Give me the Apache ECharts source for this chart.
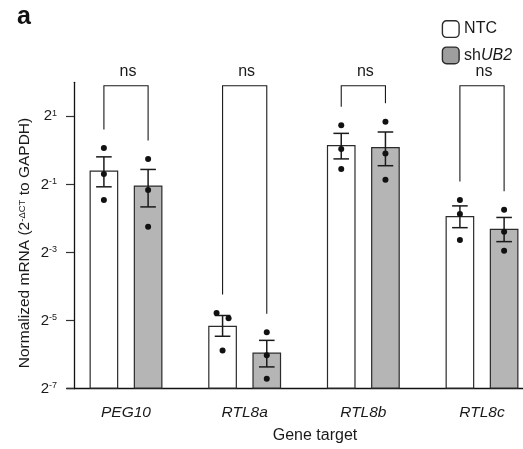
<!DOCTYPE html>
<html>
<head>
<meta charset="utf-8">
<script src="https://cdn.jsdelivr.net/npm/echarts@6.0.0/dist/echarts.min.js"></script>
<style>
html,body{margin:0;padding:0;background:#fff;}
#chart{width:523px;height:449px;}
</style>
</head>
<body>
<div id="chart"></div>
<script>
// ---- data (values are log2 of normalized mRNA, i.e. exponents of 2) ----
const categories = ['PEG10', 'RTL8a', 'RTL8b', 'RTL8c'];
const seriesNames = ['NTC', 'shUB2'];
const ntcMean = [-0.59, -5.15, 0.16, -1.93];
const ntcErrLow = [-1.07, -5.46, -0.25, -2.27];
const ntcErrHigh = [-0.19, -4.85, 0.50, -1.63];
const shMean = [-1.03, -5.94, 0.10, -2.30];
const shErrLow = [-1.66, -6.36, -0.45, -2.68];
const shErrHigh = [-0.56, -5.58, 0.54, -1.97];
const ntcPoints = [[0.07, -0.69, -1.46], [-4.78, -4.93, -5.88], [0.74, 0.04, -0.55], [-1.46, -1.87, -2.63]];
const shPoints = [[-0.25, -1.16, -2.24], [-5.34, -6.02, -6.71], [0.84, -0.09, -0.86], [-1.74, -2.39, -2.95]];
const sigLabels = ['ns', 'ns', 'ns', 'ns'];
const bracketTop = 1.9;
const yTicks = [-7, -5, -3, -1, 1];
const AXIS_MIN = -7;
const AXIS_MAX = 2;

// ---- styles ----
const FONT = 'Liberation Sans, Arial, Helvetica, sans-serif';
const TXT = '#1a1a1a';
const BAR_W = 28.7;
const BAR_GAP = 15.5;
const HALF = (BAR_W + BAR_GAP) / 2;
const tr = v => v - AXIS_MIN;

function errItem(offset) {
  return function (params, api) {
    const i = api.value(0);
    const lo = api.coord([i, api.value(1)]);
    const hi = api.coord([i, api.value(2)]);
    const x = lo[0] + offset;
    const st = { stroke: '#1a1a1a', lineWidth: 1.5 };
    return {
      type: 'group',
      children: [
        { type: 'line', shape: { x1: x, y1: lo[1], x2: x, y2: hi[1] }, style: st },
        { type: 'line', shape: { x1: x - 7.8, y1: lo[1], x2: x + 7.8, y2: lo[1] }, style: st },
        { type: 'line', shape: { x1: x - 7.8, y1: hi[1], x2: x + 7.8, y2: hi[1] }, style: st }
      ]
    };
  };
}

function pointItem(offset) {
  return function (params, api) {
    const i = api.value(0);
    const r = 3;
    const pts = [1, 2, 3].map(k => {
      const c = api.coord([i, api.value(k)]);
      return { x: c[0] + offset, y: c[1], dx: 0 };
    });
    const order = pts.slice().sort((a, b) => a.y - b.y);
    for (let k = 1; k < order.length; k++) {
      if (Math.abs(order[k].y - order[k - 1].y) < 2 * r + 1) {
        order[k - 1].dx = -6;
        order[k].dx = 6;
      }
    }
    return {
      type: 'group',
      children: pts.map(p => ({
        type: 'circle',
        shape: { cx: p.x + p.dx, cy: p.y, r: r },
        style: { fill: '#111' }
      }))
    };
  };
}

function bracketItem(params, api) {
  const i = api.value(0);
  const top = api.coord([i, api.value(1)]);
  const lEnd = api.coord([i, api.value(2)])[1] - 18.5;
  const rEnd = api.coord([i, api.value(3)])[1] - 18.5;
  const xl = top[0] - HALF, xr = top[0] + HALF;
  const st = { stroke: '#1a1a1a', lineWidth: 1.1, fill: null };
  return {
    type: 'group',
    children: [
      { type: 'polyline', shape: { points: [[xl, lEnd], [xl, top[1]], [xr, top[1]], [xr, rEnd]] }, style: st },
      { type: 'text', style: { text: sigLabels[i], x: top[0] + 2, y: top[1] - 14, align: 'center', verticalAlign: 'middle', font: '16px ' + FONT, fill: TXT } }
    ]
  };
}

const chart = echarts.init(document.getElementById('chart'), null, { renderer: 'canvas' });

const option = {
  animation: false,
  backgroundColor: '#fff',
  grid: { left: 66.67, width: 474.67, top: 82.3, height: 306.4, containLabel: false, outerBoundsMode: 'none' },
  legend: {
    orient: 'vertical',
    left: 441.7,
    top: 20,
    padding: 0,
    itemWidth: 16.7,
    itemHeight: 16.7,
    itemGap: 8.3,
    icon: 'roundRect',
    selectedMode: false,
    data: [
      { name: 'NTC', itemStyle: { color: '#fff', borderColor: '#2b2b2b', borderWidth: 1.4 } },
      { name: 'shUB2', itemStyle: { color: '#9e9e9e', borderColor: '#2b2b2b', borderWidth: 1.4 } }
    ],
    formatter: name => name === 'shUB2' ? '{r|sh}{i|UB2}' : '{r|' + name + '}',
    textStyle: {
      color: TXT, fontSize: 16, fontFamily: FONT,
      rich: {
        r: { fontSize: 16, fontFamily: FONT, color: TXT },
        i: { fontSize: 16, fontFamily: FONT, color: TXT, fontStyle: 'italic' }
      }
    }
  },
  xAxis: {
    type: 'category',
    data: categories,
    axisLine: { onZero: false, lineStyle: { color: '#111', width: 1.3 } },
    axisTick: { alignWithLabel: true, length: 7, lineStyle: { color: '#333', width: 1.2 } },
    axisLabel: { fontStyle: 'italic', fontSize: 15.5, fontFamily: FONT, color: TXT, margin: 16 },
    splitLine: { show: false }
  },
  yAxis: {
    type: 'value',
    min: tr(AXIS_MIN),
    max: tr(AXIS_MAX),
    offset: -7.33,
    axisLine: { show: true, lineStyle: { color: '#111', width: 1.3 } },
    axisTick: { show: true, length: 8, customValues: yTicks.map(tr), lineStyle: { color: '#333', width: 1.2 } },
    axisLabel: {
      customValues: yTicks.map(tr),
      margin: 17,
      formatter: v => '{b|2}{s|' + (Math.round(v) + AXIS_MIN) + '}',
      rich: {
        b: { fontSize: 15, fontFamily: FONT, color: TXT },
        s: { fontSize: 9, fontFamily: FONT, color: TXT, verticalAlign: 'top' }
      }
    },
    splitLine: { show: false }
  },
  series: [
    {
      name: seriesNames[0], type: 'bar', data: ntcMean.map(tr),
      barWidth: BAR_W, barGap: (BAR_GAP / BAR_W * 100) + '%',
      itemStyle: { color: '#ffffff', borderColor: '#2b2b2b', borderWidth: 1.2 }
    },
    {
      name: seriesNames[1], type: 'bar', data: shMean.map(tr),
      barWidth: BAR_W, barGap: (BAR_GAP / BAR_W * 100) + '%',
      itemStyle: { color: '#b5b5b5', borderColor: '#2b2b2b', borderWidth: 1.2 }
    },
    {
      type: 'custom', renderItem: errItem(-HALF), z: 5,
      data: categories.map((c, i) => [i, tr(ntcErrLow[i]), tr(ntcErrHigh[i])])
    },
    {
      type: 'custom', renderItem: errItem(HALF), z: 5,
      data: categories.map((c, i) => [i, tr(shErrLow[i]), tr(shErrHigh[i])])
    },
    {
      type: 'custom', renderItem: pointItem(-HALF), z: 6,
      data: categories.map((c, i) => [i].concat(ntcPoints[i].map(tr)))
    },
    {
      type: 'custom', renderItem: pointItem(HALF), z: 6,
      data: categories.map((c, i) => [i].concat(shPoints[i].map(tr)))
    },
    {
      type: 'custom', renderItem: bracketItem, z: 7, clip: false,
      data: categories.map((c, i) => [i, tr(bracketTop), tr(Math.max(...ntcPoints[i])), tr(Math.max(...shPoints[i]))])
    }
  ],
  graphic: [
    { type: 'text', left: 17, top: 5, style: { text: 'a', font: 'bold 25px ' + FONT, fill: '#111' } },
    {
      type: 'text', x: 25, y: 243, rotation: Math.PI / 2,
      style: {
        text: '{r|Normalized mRNA (2}{s|-ΔCT}{r| to GAPDH)}',
        align: 'center', verticalAlign: 'middle',
        rich: {
          r: { fontSize: 15.5, fontFamily: FONT, fill: TXT, color: TXT },
          s: { fontSize: 9.5, fontFamily: FONT, fill: TXT, color: TXT, verticalAlign: 'top' }
        },
        fill: TXT
      }
    },
    { type: 'text', x: 315, y: 436, style: { text: 'Gene target', align: 'center', verticalAlign: 'middle', font: '16px ' + FONT, fill: TXT } }
  ]
};

chart.setOption(option);
</script>
</body>
</html>
